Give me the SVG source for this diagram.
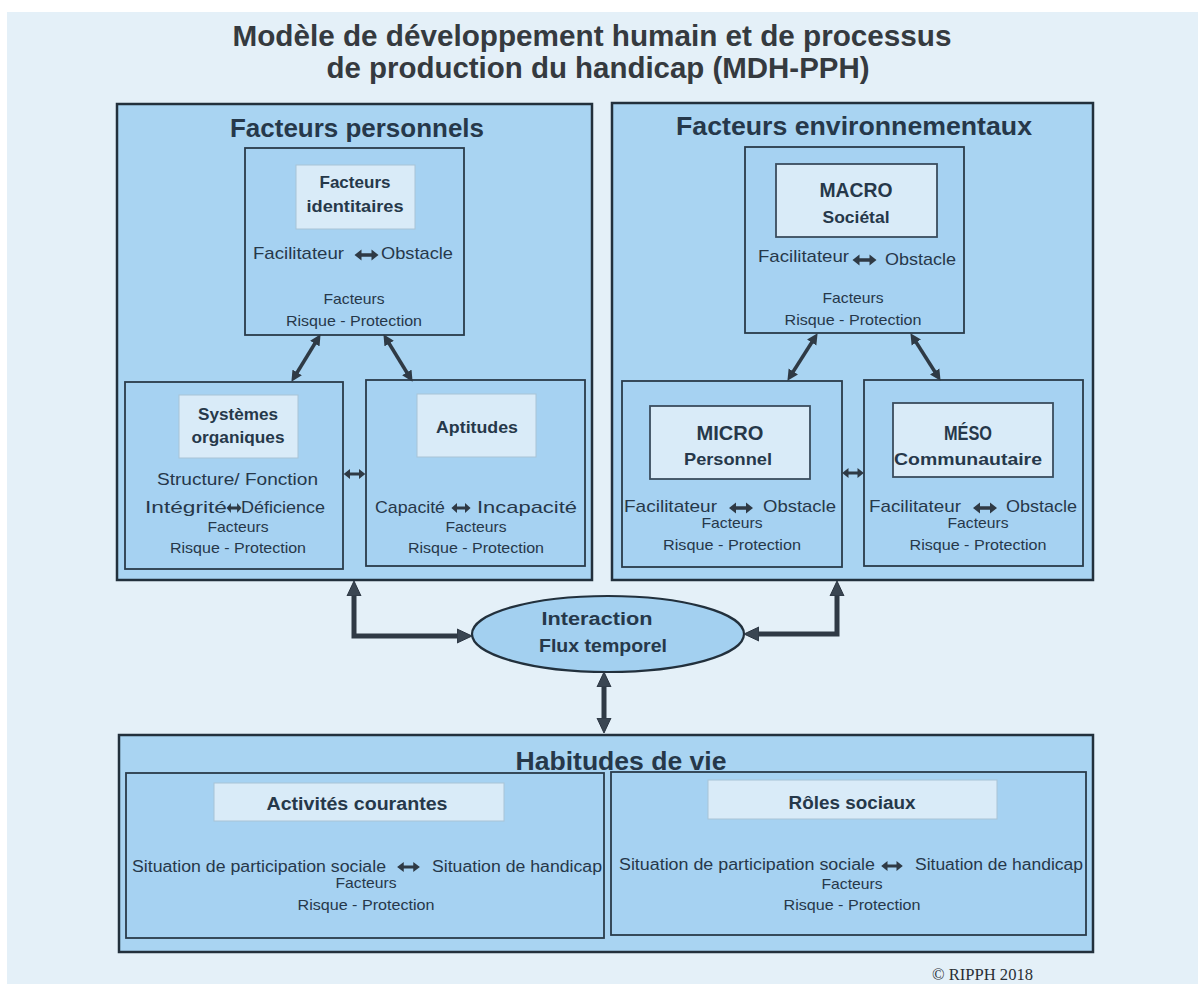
<svg xmlns="http://www.w3.org/2000/svg" xmlns:xlink="http://www.w3.org/1999/xlink" width="1198" height="984" viewBox="0 0 1198 984">
<defs>
<style>
.t{font-family:"Liberation Sans",Arial,sans-serif;fill:#26384a}
.b{font-weight:bold}
.m{text-anchor:middle}
.big{fill:#a9d4f2;stroke:#22303c;stroke-width:2.5}
.inner{fill:#a6d2f2;stroke:#2a3b4a;stroke-width:1.8}
.lab{fill:#d9ebf8;stroke:#a8c3d6;stroke-width:1}
.labd{fill:#d9ebf8;stroke:#3a4d5e;stroke-width:1.8}
.conn{fill:none;stroke:#2f3a45;stroke-width:5}
.dia{fill:none;stroke:#2f3a45;stroke-width:3.5}
.sym{fill:#2f3a45}
</style>
<marker id="ah" markerUnits="userSpaceOnUse" markerWidth="16" markerHeight="16" viewBox="0 0 16 16" refX="5" refY="8" orient="auto-start-reverse">
<path d="M0,1 L15,8 L0,15 z" fill="#3a4652" stroke="#2a3440" stroke-width="1"/>
</marker>
<marker id="as" markerUnits="userSpaceOnUse" markerWidth="12" markerHeight="12" viewBox="0 0 12 12" refX="3" refY="6" orient="auto-start-reverse">
<path d="M0,0.5 L11,6 L0,11.5 z" fill="#2f3a45"/>
</marker>
<path id="dbl" d="M-12,0 L-5,-5.5 L-5,-1.8 L5,-1.8 L5,-5.5 L12,0 L5,5.5 L5,1.8 L-5,1.8 L-5,5.5 z"/>
</defs>
<rect x="0" y="0" width="1198" height="984" fill="#ffffff"/>
<rect x="7" y="12" width="1191" height="972" fill="#e4f0f8"/>

<g id="title">
<text class="t b m" x="592" y="46" font-size="30" textLength="719" lengthAdjust="spacingAndGlyphs" style="fill:#353a3f">Modèle de développement humain et de processus</text>
<text class="t b m" x="598" y="78" font-size="30" textLength="543" lengthAdjust="spacingAndGlyphs" style="fill:#353a3f">de production du handicap (MDH-PPH)</text>
</g>

<g id="facteurs-personnels">
<rect class="big" x="117" y="104" width="475" height="476"/>
<text class="t b m" x="357" y="137" font-size="25" textLength="254" lengthAdjust="spacingAndGlyphs">Facteurs personnels</text>
</g>

<g id="facteurs-identitaires">
<rect class="inner" x="245" y="148" width="219" height="187"/>
<rect class="lab" x="296" y="165" width="119" height="64"/>
<text class="t b m" x="355" y="188" font-size="17" textLength="71" lengthAdjust="spacingAndGlyphs">Facteurs</text>
<text class="t b m" x="355" y="212" font-size="17" textLength="97" lengthAdjust="spacingAndGlyphs">identitaires</text>
<text class="t" x="253" y="259" font-size="17" textLength="91" lengthAdjust="spacingAndGlyphs">Facilitateur</text>
<use href="#dbl" class="sym" transform="translate(366.5,255)"/>
<text class="t" x="381" y="259" font-size="17" textLength="72" lengthAdjust="spacingAndGlyphs">Obstacle</text>
<text class="t m" x="354" y="304" font-size="15" textLength="61" lengthAdjust="spacingAndGlyphs">Facteurs</text>
<text class="t m" x="354" y="326" font-size="15" textLength="136" lengthAdjust="spacingAndGlyphs">Risque - Protection</text>
</g>

<g id="systemes-organiques">
<rect class="inner" x="125" y="382" width="218" height="187"/>
<rect class="lab" x="179" y="395" width="119" height="63"/>
<text class="t b m" x="238" y="420" font-size="17" textLength="80" lengthAdjust="spacingAndGlyphs">Systèmes</text>
<text class="t b m" x="238" y="443" font-size="17" textLength="93" lengthAdjust="spacingAndGlyphs">organiques</text>
<text class="t" x="157" y="485" font-size="17" textLength="161" lengthAdjust="spacingAndGlyphs">Structure/ Fonction</text>
<text class="t" x="145" y="513" font-size="17" textLength="82" lengthAdjust="spacingAndGlyphs">Intégrité</text>
<use href="#dbl" class="sym" transform="translate(234,508) scale(0.62,0.9)"/>
<text class="t" x="241" y="513" font-size="17" textLength="84" lengthAdjust="spacingAndGlyphs">Déficience</text>
<text class="t m" x="238" y="532" font-size="15" textLength="61" lengthAdjust="spacingAndGlyphs">Facteurs</text>
<text class="t m" x="238" y="553" font-size="15" textLength="136" lengthAdjust="spacingAndGlyphs">Risque - Protection</text>
</g>

<g id="aptitudes">
<rect class="inner" x="366" y="380" width="219" height="186"/>
<rect class="lab" x="417" y="394" width="119" height="63"/>
<text class="t b m" x="477" y="433" font-size="17" textLength="82" lengthAdjust="spacingAndGlyphs">Aptitudes</text>
<text class="t" x="375" y="513" font-size="17" textLength="70" lengthAdjust="spacingAndGlyphs">Capacité</text>
<use href="#dbl" class="sym" transform="translate(461,508) scale(0.8,0.9)"/>
<text class="t" x="477" y="513" font-size="17" textLength="100" lengthAdjust="spacingAndGlyphs">Incapacité</text>
<text class="t m" x="476" y="532" font-size="15" textLength="61" lengthAdjust="spacingAndGlyphs">Facteurs</text>
<text class="t m" x="476" y="553" font-size="15" textLength="136" lengthAdjust="spacingAndGlyphs">Risque - Protection</text>
</g>

<g id="facteurs-environnementaux">
<rect class="big" x="612" y="103" width="481" height="477"/>
<text class="t b m" x="854" y="135" font-size="25" textLength="356" lengthAdjust="spacingAndGlyphs">Facteurs environnementaux</text>
</g>

<g id="macro">
<rect class="inner" x="745" y="147" width="219" height="186"/>
<rect class="labd" x="776" y="164" width="161" height="73"/>
<text class="t b m" x="856" y="197" font-size="21" textLength="73" lengthAdjust="spacingAndGlyphs">MACRO</text>
<text class="t b m" x="856" y="223" font-size="17" textLength="67" lengthAdjust="spacingAndGlyphs">Sociétal</text>
<text class="t" x="758" y="262" font-size="17" textLength="91" lengthAdjust="spacingAndGlyphs">Facilitateur</text>
<use href="#dbl" class="sym" transform="translate(864.5,260)"/>
<text class="t" x="885" y="265" font-size="17" textLength="71" lengthAdjust="spacingAndGlyphs">Obstacle</text>
<text class="t m" x="853" y="303" font-size="15" textLength="61" lengthAdjust="spacingAndGlyphs">Facteurs</text>
<text class="t m" x="853" y="325" font-size="15" textLength="137" lengthAdjust="spacingAndGlyphs">Risque - Protection</text>
</g>

<g id="micro">
<rect class="inner" x="622" y="381" width="220" height="186"/>
<rect class="labd" x="650" y="406" width="160" height="73"/>
<text class="t b m" x="730" y="440" font-size="21" textLength="67" lengthAdjust="spacingAndGlyphs">MICRO</text>
<text class="t b m" x="728" y="465" font-size="17" textLength="88" lengthAdjust="spacingAndGlyphs">Personnel</text>
<text class="t" x="624" y="512" font-size="17" textLength="93" lengthAdjust="spacingAndGlyphs">Facilitateur</text>
<use href="#dbl" class="sym" transform="translate(741,508)"/>
<text class="t" x="763" y="512" font-size="17" textLength="73" lengthAdjust="spacingAndGlyphs">Obstacle</text>
<text class="t m" x="732" y="528" font-size="15" textLength="61" lengthAdjust="spacingAndGlyphs">Facteurs</text>
<text class="t m" x="732" y="550" font-size="15" textLength="138" lengthAdjust="spacingAndGlyphs">Risque - Protection</text>
</g>

<g id="meso">
<rect class="inner" x="864" y="380" width="219" height="186"/>
<rect class="labd" x="893" y="403" width="160" height="74"/>
<text class="t b m" x="968" y="440" font-size="21" textLength="48" lengthAdjust="spacingAndGlyphs">MÉSO</text>
<text class="t b m" x="968" y="465" font-size="17" textLength="148" lengthAdjust="spacingAndGlyphs">Communautaire</text>
<text class="t" x="869" y="512" font-size="17" textLength="92" lengthAdjust="spacingAndGlyphs">Facilitateur</text>
<use href="#dbl" class="sym" transform="translate(985,508)"/>
<text class="t" x="1006" y="512" font-size="17" textLength="71" lengthAdjust="spacingAndGlyphs">Obstacle</text>
<text class="t m" x="978" y="528" font-size="15" textLength="61" lengthAdjust="spacingAndGlyphs">Facteurs</text>
<text class="t m" x="978" y="550" font-size="15" textLength="137" lengthAdjust="spacingAndGlyphs">Risque - Protection</text>
</g>

<g id="interaction">
<ellipse cx="608" cy="634" rx="136" ry="38" fill="#a3d0f0" stroke="#22303c" stroke-width="2.2"/>
<text class="t b m" x="597" y="625" font-size="18" textLength="111" lengthAdjust="spacingAndGlyphs">Interaction</text>
<text class="t b m" x="603" y="652" font-size="18" textLength="128" lengthAdjust="spacingAndGlyphs">Flux temporel</text>
</g>

<g id="habitudes-de-vie">
<rect class="big" x="119" y="735" width="974" height="217"/>
<text class="t b m" x="621" y="770" font-size="25" textLength="211" lengthAdjust="spacingAndGlyphs">Habitudes de vie</text>
</g>

<g id="activites-courantes">
<rect class="inner" x="126" y="773" width="478" height="165"/>
<rect class="lab" x="214" y="783" width="290" height="38"/>
<text class="t b m" x="357" y="810" font-size="18" textLength="181" lengthAdjust="spacingAndGlyphs">Activités courantes</text>
<text class="t" x="132" y="872" font-size="16" textLength="254" lengthAdjust="spacingAndGlyphs">Situation de participation sociale</text>
<use href="#dbl" class="sym" transform="translate(408.5,867) scale(0.95,0.9)"/>
<text class="t" x="432" y="872" font-size="16" textLength="170" lengthAdjust="spacingAndGlyphs">Situation de handicap</text>
<text class="t m" x="366" y="888" font-size="15" textLength="61" lengthAdjust="spacingAndGlyphs">Facteurs</text>
<text class="t m" x="366" y="910" font-size="15" textLength="137" lengthAdjust="spacingAndGlyphs">Risque - Protection</text>
</g>

<g id="roles-sociaux">
<rect class="inner" x="611" y="772" width="475" height="163"/>
<rect class="lab" x="708" y="780" width="289" height="39"/>
<text class="t b m" x="852" y="809" font-size="18" textLength="127" lengthAdjust="spacingAndGlyphs">Rôles sociaux</text>
<text class="t" x="619" y="870" font-size="16" textLength="256" lengthAdjust="spacingAndGlyphs">Situation de participation sociale</text>
<use href="#dbl" class="sym" transform="translate(892,866) scale(0.9,0.9)"/>
<text class="t" x="915" y="870" font-size="16" textLength="168" lengthAdjust="spacingAndGlyphs">Situation de handicap</text>
<text class="t m" x="852" y="889" font-size="15" textLength="61" lengthAdjust="spacingAndGlyphs">Facteurs</text>
<text class="t m" x="852" y="910" font-size="15" textLength="137" lengthAdjust="spacingAndGlyphs">Risque - Protection</text>
</g>

<g id="connectors">
<line class="dia" x1="316.4" y1="341" x2="295.6" y2="375" marker-start="url(#as)" marker-end="url(#as)"/>
<line class="dia" x1="387.6" y1="341" x2="408.4" y2="375" marker-start="url(#as)" marker-end="url(#as)"/>
<line class="dia" x1="813.3" y1="340" x2="791.7" y2="374" marker-start="url(#as)" marker-end="url(#as)"/>
<line class="dia" x1="914.7" y1="340" x2="936.3" y2="374" marker-start="url(#as)" marker-end="url(#as)"/>
<use href="#dbl" class="sym" transform="translate(354.5,474) scale(0.9,0.9)"/>
<use href="#dbl" class="sym" transform="translate(853,473) scale(0.9,0.9)"/>
<polyline class="conn" points="354,591 354,636 462,636" marker-start="url(#ah)" marker-end="url(#ah)"/>
<polyline class="conn" points="754,634 837,634 837,591" marker-start="url(#ah)" marker-end="url(#ah)"/>
<line class="conn" x1="604" y1="682" x2="604" y2="723" marker-start="url(#ah)" marker-end="url(#ah)"/>
</g>

<text x="932" y="980" font-family="Liberation Serif, serif" font-size="17" textLength="101" lengthAdjust="spacingAndGlyphs" fill="#2a2f35">© RIPPH 2018</text>
</svg>
